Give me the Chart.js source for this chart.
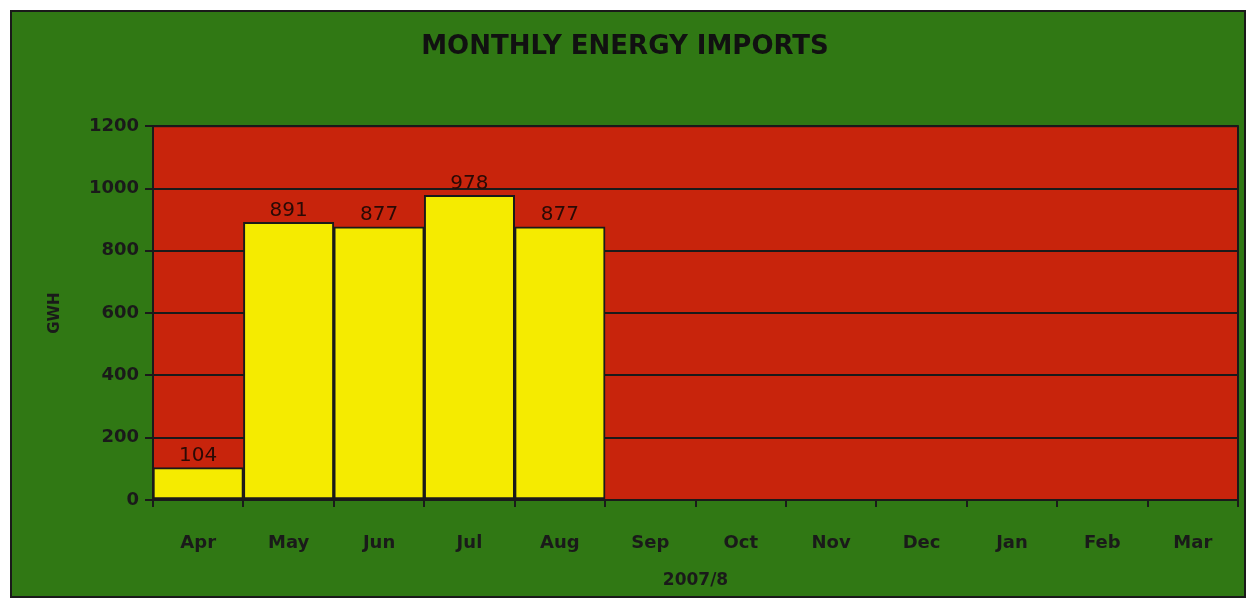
<!DOCTYPE html>
<html>
<head>
<meta charset="utf-8">
<script src="https://cdn.jsdelivr.net/npm/chart.js@4"></script>
<style>
  body { margin: 0; background: #ffffff; }
  #frame {
    position: absolute; left: 10px; top: 10px;
    width: 1232px; height: 584px;
    border: 2px solid #1a1a1a;
    background: #307814;
  }
  canvas { display: block; }
</style>
</head>
<body>
<div id="frame"><canvas id="energyChart" width="1232" height="584"></canvas></div>
<script>
// Chart data
const months = ['Apr', 'May', 'Jun', 'Jul', 'Aug', 'Sep', 'Oct', 'Nov', 'Dec', 'Jan', 'Feb', 'Mar'];
const imports = [104, 891, 877, 978, 877, null, null, null, null, null, null, null];
const yTicks = [0, 200, 400, 600, 800, 1000, 1200];

const fontFamily = "'DejaVu Sans', Arial, sans-serif";

// Red plot background with a dark frame
const plotBackground = {
    id: 'plotBackground',
    beforeDraw(chart) {
        const { ctx, chartArea } = chart;
        ctx.save();
        ctx.fillStyle = '#c8240c';
        ctx.fillRect(chartArea.left, chartArea.top, chartArea.width, chartArea.height);
        ctx.restore();
    },
    afterDraw(chart) {
        const { ctx, chartArea } = chart;
        ctx.save();
        ctx.strokeStyle = '#1a1a1a';
        ctx.lineWidth = 2;
        ctx.strokeRect(chartArea.left, chartArea.top, chartArea.width, chartArea.height);
        ctx.restore();
    }
};

// Value labels above each bar
const valueLabels = {
    id: 'valueLabels',
    afterDatasetsDraw(chart) {
        const { ctx } = chart;
        const meta = chart.getDatasetMeta(0);
        ctx.save();
        ctx.font = '20px ' + fontFamily;
        ctx.fillStyle = '#2a0a05';
        ctx.textAlign = 'center';
        ctx.textBaseline = 'bottom';
        meta.data.forEach((bar, i) => {
            const v = imports[i];
            if (v == null) return;
            ctx.fillText(String(v), bar.x, bar.y - 2);
        });
        ctx.restore();
    }
};

new Chart(document.getElementById('energyChart'), {
    type: 'bar',
    data: {
        labels: months,
        datasets: [{
            data: imports,
            backgroundColor: '#f5eb00',
            borderColor: '#1a1a1a',
            borderWidth: 2,
            borderSkipped: false,
            categoryPercentage: 1.0,
            barPercentage: 1.0
        }]
    },
    options: {
        responsive: false,
        animation: false,
        layout: { padding: { left: 0, right: 6, top: 0, bottom: 0 } },
        plugins: {
            legend: { display: false },
            tooltip: { enabled: false },
            title: {
                display: true,
                text: 'MONTHLY ENERGY IMPORTS',
                color: '#111',
                font: { family: fontFamily, size: 26, weight: 'bold' },
                padding: { top: 20, bottom: 63 }
            }
        },
        scales: {
            x: {
                offset: true,
                grid: {
                    offset: true,
                    drawOnChartArea: false,
                    drawTicks: true,
                    tickLength: 7,
                    color: '#1a1a1a',
                    lineWidth: 2
                },
                border: { display: true, color: '#1a1a1a', width: 2 },
                ticks: {
                    color: '#1a1a1a',
                    padding: 26,
                    font: { family: fontFamily, size: 18, weight: 'bold' }
                },
                title: {
                    display: true,
                    text: '2007/8',
                    color: '#1a1a1a',
                    font: { family: fontFamily, size: 17, weight: 'bold' },
                    padding: { top: 0, bottom: 5 }
                },
                afterFit(scale) { scale.height = 96; }
            },
            y: {
                min: 0,
                max: 1200,
                afterBuildTicks(scale) {
                    scale.ticks = yTicks.map(v => ({ value: v }));
                },
                grid: {
                    color: '#1a1a1a',
                    lineWidth: 2,
                    drawTicks: true,
                    tickLength: 8
                },
                border: { display: true, color: '#1a1a1a', width: 2 },
                ticks: {
                    color: '#1a1a1a',
                    padding: 6,
                    font: { family: fontFamily, size: 18, weight: 'bold' },
                    callback: v => String(v)
                },
                title: {
                    display: true,
                    text: 'GWH',
                    color: '#1a1a1a',
                    font: { family: fontFamily, size: 15, weight: 'bold' },
                    padding: { top: 34, bottom: 0 }
                },
                afterFit(scale) { scale.width = 141; }
            }
        }
    },
    plugins: [plotBackground, valueLabels]
});
</script>
</body>
</html>
